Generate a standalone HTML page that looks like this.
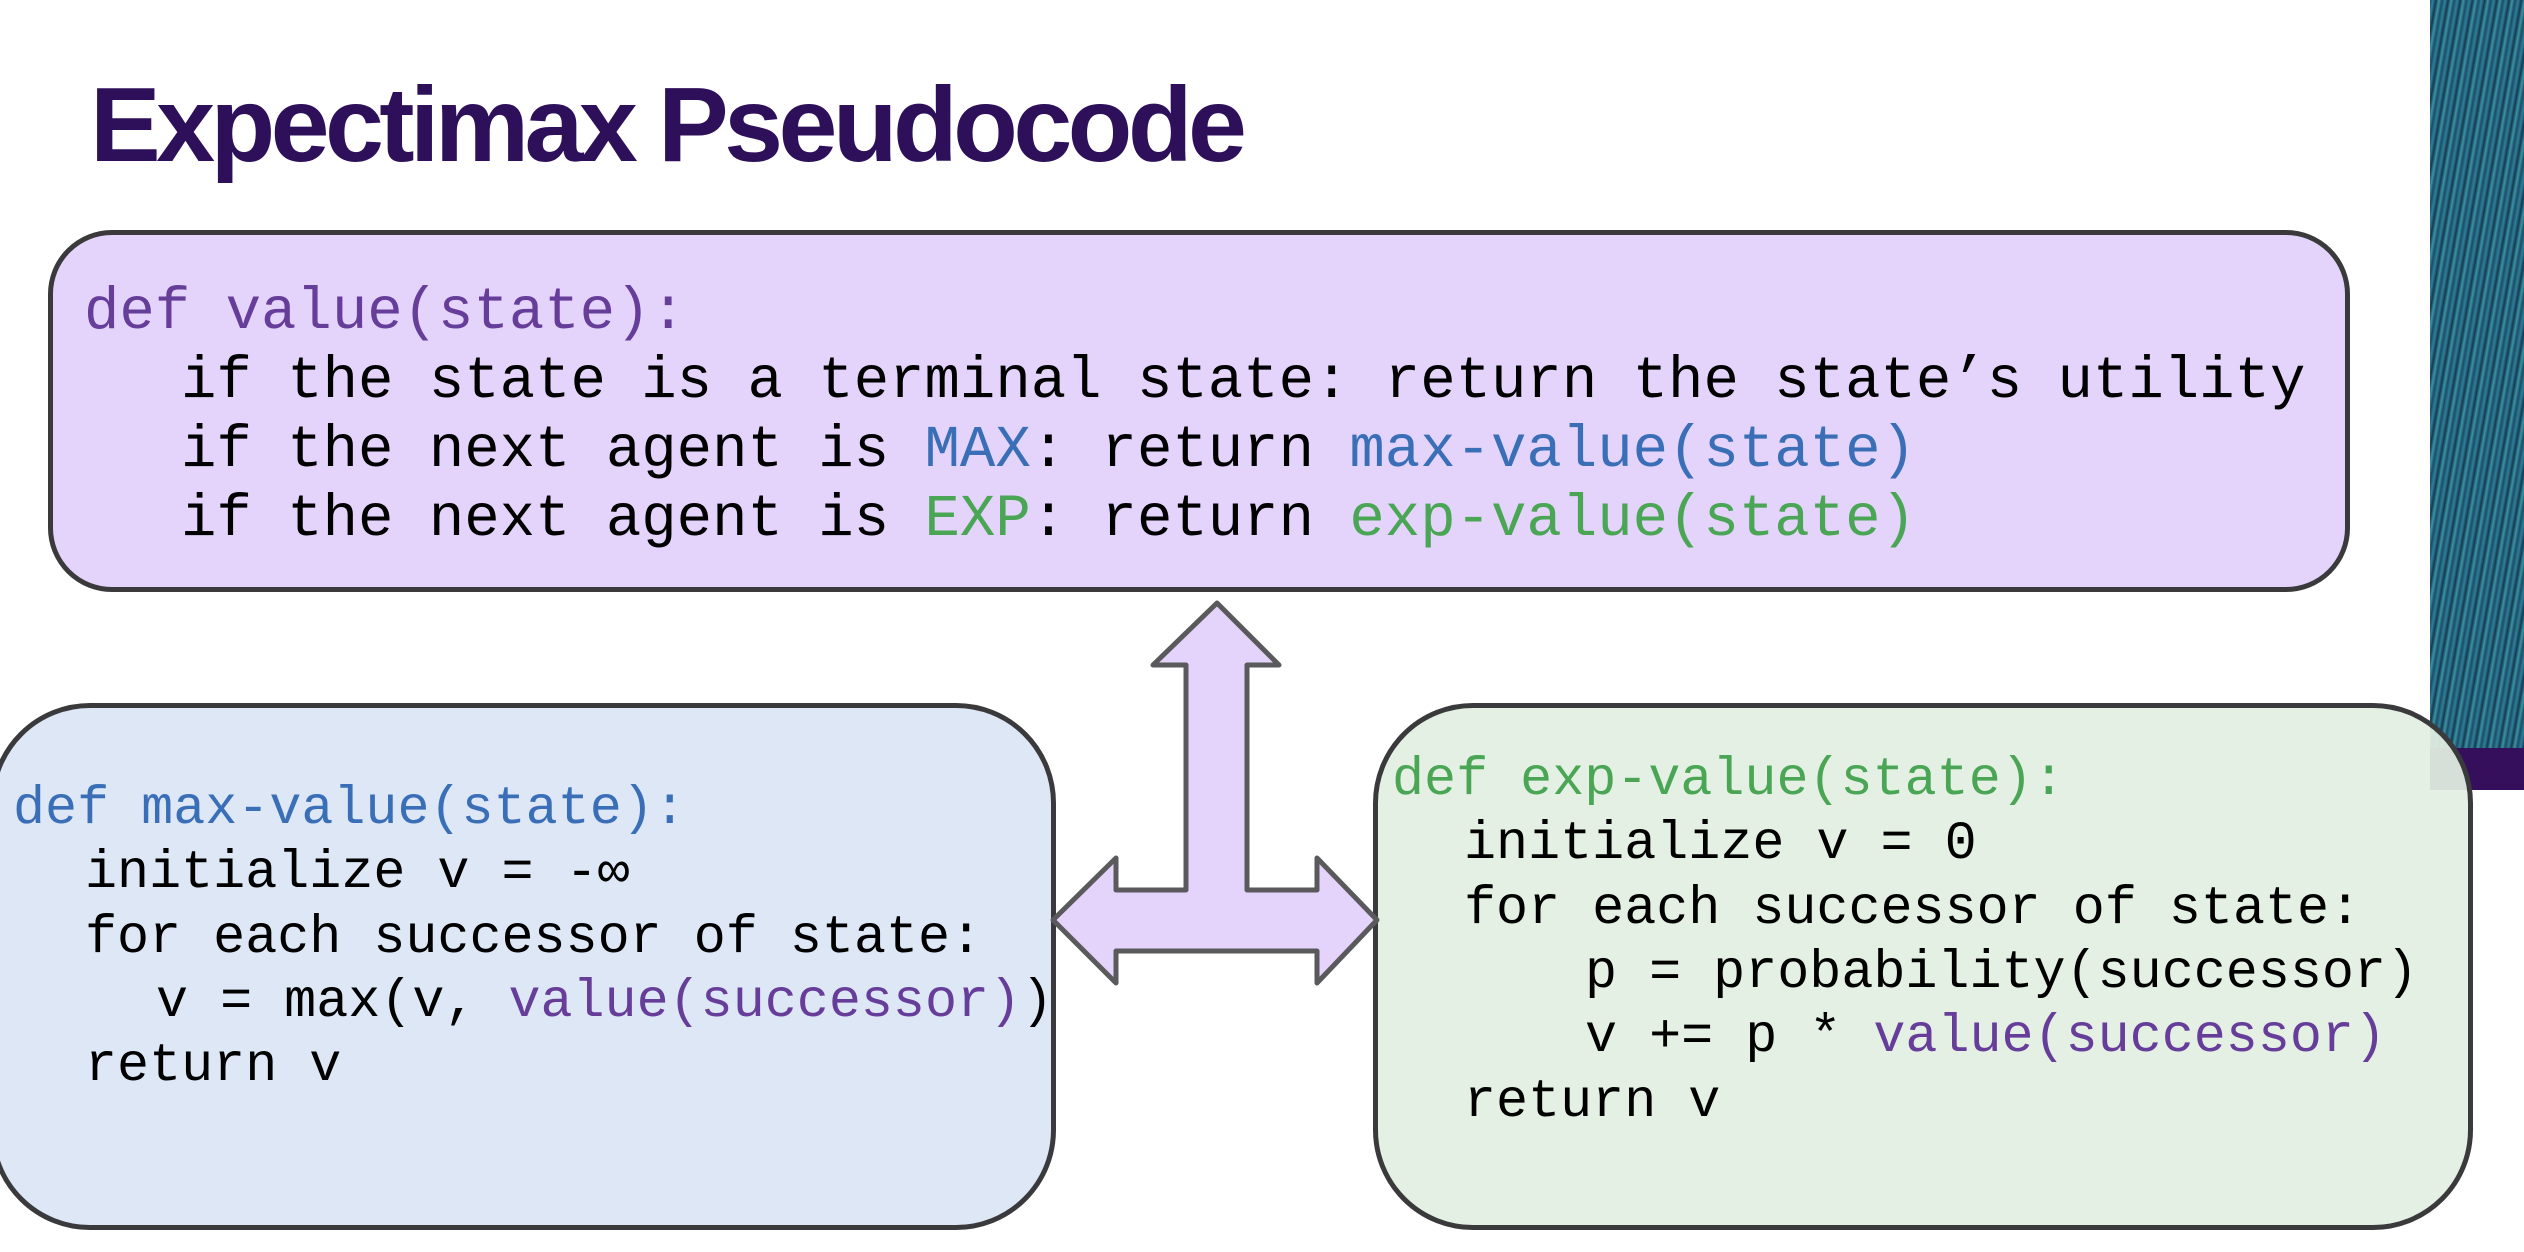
<!DOCTYPE html>
<html><head><meta charset="utf-8"><style>
html,body{margin:0;padding:0;width:2524px;height:1252px;overflow:hidden;background:#fff;position:relative}
.deco{position:absolute;left:2430px;top:0;width:94px;height:748px;background:repeating-linear-gradient(100deg,#1d4f66 0px,#2f7f9c 3px,#14394d 6px,#3b93a8 9px,#1a4a60 12px);}
.bar{position:absolute;left:2430px;top:748px;width:94px;height:42px;background:#360f5c}
.box{position:absolute;box-sizing:border-box;border:5px solid #3a3a3c}
.t{position:absolute;font-family:"Liberation Mono",monospace;white-space:pre;color:#000;line-height:1}
.a{font-size:59px}.s{font-size:53.4px}
.p{color:#663d99}.b{color:#3a6fb7}.g{color:#4aa655}
h1{position:absolute;left:90px;top:72px;margin:0;font-family:"Liberation Sans",sans-serif;font-weight:bold;font-size:106px;color:#2d0f5a;letter-spacing:-4.6px;line-height:1}
</style></head><body>
<div class="deco"></div><div class="bar"></div>
<h1>Expectimax Pseudocode</h1>
<div class="box" style="left:48px;top:230px;width:2302px;height:362px;border-radius:64px;background:#e4d4fb"></div>
<div class="box" style="left:-10px;top:703px;width:1066px;height:527px;border-radius:100px;background:#dde7f5"></div>
<div class="box" style="left:1373px;top:703px;width:1100px;height:527px;border-radius:100px;background:rgba(227,239,227,0.93)"></div>
<svg style="position:absolute;left:0;top:0" width="2524" height="1252">
<polygon points="1217,603 1279,665 1247,665 1247,890 1317,890 1317,858 1377,920 1317,983 1317,951 1116,951 1116,983 1053,920 1116,858 1116,890 1186,890 1186,665 1153,665" fill="#e4d4fb" stroke="#5a5a5c" stroke-width="5" stroke-linejoin="round"/>
</svg>
<div class="t a" style="left:84px;top:283px"><span class="p">def value(state):</span></div>
<div class="t a" style="left:181px;top:352px">if the state is a terminal state: return the state’s utility</div>
<div class="t a" style="left:181px;top:421px">if the next agent is <span class="b">MAX</span>: return <span class="b">max-value(state)</span></div>
<div class="t a" style="left:181px;top:490px">if the next agent is <span class="g">EXP</span>: return <span class="g">exp-value(state)</span></div>

<div class="t s" style="left:13px;top:784px"><span class="b">def max-value(state):</span></div>
<div class="t s" style="left:85px;top:848px">initialize v = -∞</div>
<div class="t s" style="left:85px;top:913px">for each successor of state:</div>
<div class="t s" style="left:156px;top:977px">v = max(v, <span class="p">value(successor)</span>)</div>
<div class="t s" style="left:85px;top:1041px">return v</div>

<div class="t s" style="left:1392px;top:755px"><span class="g">def exp-value(state):</span></div>
<div class="t s" style="left:1464px;top:819px">initialize v = 0</div>
<div class="t s" style="left:1464px;top:884px">for each successor of state:</div>
<div class="t s" style="left:1585px;top:948px">p = probability(successor)</div>
<div class="t s" style="left:1585px;top:1012px">v += p * <span class="p">value(successor)</span></div>
<div class="t s" style="left:1464px;top:1077px">return v</div>
</body></html>
